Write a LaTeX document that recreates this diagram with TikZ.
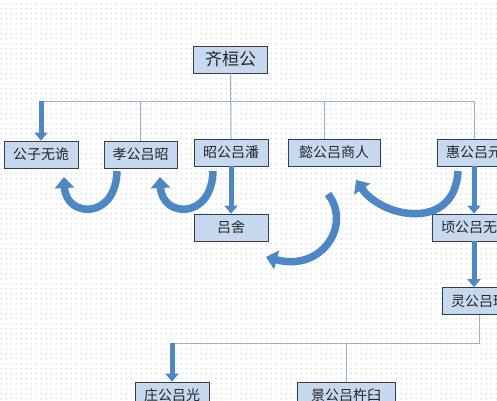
\documentclass[tikz,border=0pt]{standalone}
\usepackage{fontspec}
\newfontfamily\cjk{Noto Sans CJK SC}
\usetikzlibrary{arrows.meta,patterns.meta}
\definecolor{boxfill}{RGB}{198,217,238}
\definecolor{boxdraw}{RGB}{50,62,78}
\definecolor{linec}{RGB}{150,176,200}
\definecolor{arrowc}{RGB}{79,134,196}
\definecolor{dotc}{RGB}{160,170,180}
\tikzdeclarepattern{name=bgdots, type=uncolored, bounding box={(0,0) and (5pt,5pt)}, tile size={(5pt,5pt)}, code={\fill (2.5pt,2.5pt) circle (0.7pt);}}
\begin{document}
\begin{tikzpicture}[x=1pt,y=-1pt,
  person/.style={draw=boxdraw, fill=boxfill, line width=0.8pt, minimum height=27pt, inner sep=0pt, font=\cjk\fontsize{14}{14}\selectfont, text=black!85},
  linkline/.style={draw=linec, line width=1pt},
  bigarrow/.style={draw=arrowc, line width=5pt, -{Triangle[width=13pt,length=8pt]}},
  curvearrow/.style={draw=arrowc, line width=7.5pt, -{Triangle[width=19pt,length=11pt]}}]
\useasboundingbox (0,0) rectangle (497,400);
\clip (0,0) rectangle (497,400);
\fill[white] (0,0) rectangle (497,400);
\fill[pattern=bgdots, pattern color=dotc] (0,0) rectangle (497,400);

\node[person, minimum width=74pt, font=\cjk\fontsize{17}{17}\selectfont] (huan) at (230.5,59.5) {齐桓公};
\node[person, minimum width=74pt] (wugui) at (41,154.5) {公子无诡};
\node[person, minimum width=73pt] (xiao) at (140.5,154.5) {孝公吕昭};
\node[person, minimum width=74pt] (zhao) at (231,152.5) {昭公吕潘};
\node[person, minimum width=92pt] (yi) at (334,152.5) {懿公吕商人};
\node[person, minimum width=74pt] (hui) at (474,152.5) {惠公吕元};
\node[person, minimum width=74pt] (she) at (231,227.5) {吕舍};
\node[person, minimum width=88pt] (qing) at (476,227.5) {顷公吕无野};
\node[person, minimum width=74pt] (ling) at (479,301) {灵公吕环};
\node[person, minimum width=74pt] (zhuang) at (172,395.5) {庄公吕光};
\node[person, minimum width=98pt] (jing) at (346,395.5) {景公吕杵臼};

\coordinate (hl) at (41,101);
\coordinate (hr) at (474,101);
\coordinate (yt) at (324,101);
\draw[linkline] (huan.south) -- (zhao.north);
\draw[linkline] (hl) -- (hr) -- (hr |- hui.north);
\draw[linkline] (xiao.north |- hl) -- (xiao.north);
\draw[linkline] (yt) -- (yt |- yi.north);
\draw[bigarrow] (hl) -- (wugui.north);
\draw[bigarrow] (zhao.south) -- (she.north);
\draw[bigarrow] (hui.south) -- (hui.south |- qing.north);
\draw[bigarrow] (hui.south |- qing.south) -- (hui.south |- ling.north);

\coordinate (br) at (479,343);
\coordinate (bl) at (172,343);
\draw[linkline] (ling.south) -- (br) -- (bl);
\draw[bigarrow] (bl) -- (zhuang.north);
\draw[linkline] (jing.north |- bl) -- (jing.north);

\coordinate (a1s) at (117,171);
\coordinate (a1e) at (64,177);
\coordinate (a2s) at (213,171);
\coordinate (a2e) at (160,177);
\coordinate (a3s) at (458,171);
\coordinate (a3e) at (356,180);
\coordinate (a4s) at (328,194);
\coordinate (a4e) at (266,257);
\draw[curvearrow] (a1s) .. controls (116,220) and (66,218) .. (a1e);
\draw[curvearrow] (a2s) .. controls (212,220) and (162,218) .. (a2e);
\draw[curvearrow] (a3s) .. controls (455,232) and (382,218) .. (a3e);
\draw[curvearrow] (a4s) .. controls (352,225) and (322,272) .. (a4e);
\end{tikzpicture}
\end{document}
